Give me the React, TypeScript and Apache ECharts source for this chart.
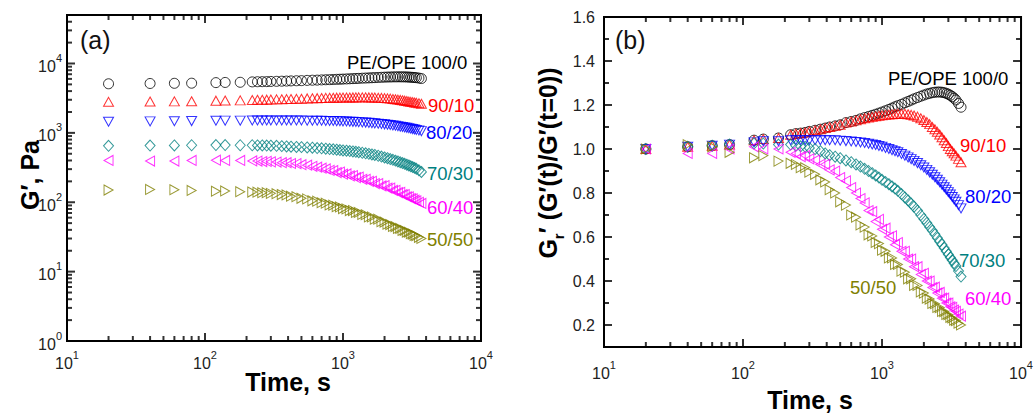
import React, { useEffect, useRef } from "react";
import * as echarts from "echarts";

// ---------------- data ----------------
const TIME_S = [20, 40, 60, 80, 120, 140, 180, 220, 240, 260, 280, 300, 330, 360, 390, 420, 460, 500, 550, 600, 650, 700, 750, 800, 850, 900, 950, 1000, 1060, 1120, 1180, 1240, 1300, 1380, 1460, 1540, 1620, 1700, 1800, 1900, 2000, 2100, 2200, 2300, 2400, 2500, 2600, 2700, 2800, 2900, 3000, 3100, 3200, 3300, 3400, 3550, 3700];

// panel (a): G', Pa
const G_100_0 = [5100, 5150, 5180, 5200, 5300, 5330, 5360, 5430, 5460, 5470, 5480, 5510, 5530, 5560, 5580, 5610, 5640, 5660, 5710, 5740, 5760, 5800, 5830, 5850, 5880, 5910, 5930, 5960, 5990, 6020, 6050, 6080, 6100, 6140, 6170, 6200, 6230, 6260, 6290, 6320, 6350, 6380, 6390, 6410, 6420, 6420, 6420, 6420, 6410, 6390, 6370, 6340, 6310, 6280, 6240, 6160, 6070];
const G_90_10 = [2800, 2828, 2842, 2856, 2912, 2926, 2940, 2982, 2996, 3002, 3010, 3024, 3038, 3052, 3066, 3080, 3094, 3108, 3136, 3150, 3164, 3178, 3192, 3200, 3209, 3217, 3223, 3228, 3234, 3240, 3242, 3245, 3248, 3248, 3248, 3242, 3234, 3226, 3212, 3192, 3170, 3144, 3116, 3080, 3052, 3018, 2985, 2948, 2912, 2876, 2836, 2800, 2772, 2744, 2716, 2674, 2632];
const G_80_20 = [1450, 1465, 1472, 1479, 1494, 1501, 1501, 1508, 1508, 1508, 1508, 1508, 1508, 1508, 1508, 1508, 1508, 1505, 1502, 1499, 1496, 1494, 1489, 1485, 1480, 1476, 1470, 1465, 1457, 1450, 1443, 1436, 1428, 1417, 1407, 1395, 1383, 1372, 1357, 1343, 1328, 1312, 1296, 1280, 1264, 1247, 1231, 1215, 1198, 1182, 1166, 1150, 1134, 1118, 1102, 1080, 1059];
const G_70_30 = [650, 657, 660, 663, 666, 666, 663, 663, 660, 658, 657, 653, 650, 644, 637, 632, 627, 623, 616, 611, 605, 598, 592, 585, 579, 572, 566, 559, 553, 546, 540, 533, 527, 517, 507, 498, 489, 480, 468, 455, 443, 432, 420, 409, 398, 387, 377, 367, 358, 348, 339, 330, 321, 313, 304, 289, 273];
const G_60_40 = [400, 392, 392, 400, 404, 400, 400, 394, 392, 386, 388, 382, 380, 372, 372, 362, 360, 348, 342, 330, 320, 310, 302, 288, 286, 268, 272, 254, 256, 240, 242, 226, 230, 214, 214, 200, 200, 186, 186, 172, 174, 160, 160, 148, 149, 138, 139, 129, 129, 120, 120, 113, 112, 107, 105, 100, 96];
const G_50_50 = [150, 153, 151.5, 147.8, 144, 145.5, 141.8, 140.3, 139.5, 137.3, 137.3, 134.3, 132.8, 129, 127.5, 122.3, 120, 114, 111.8, 105, 103.5, 98.3, 96.8, 91.5, 90.8, 86.3, 85.5, 81, 80.3, 75.8, 75.8, 71.3, 71.3, 66.8, 66, 61.5, 61.5, 57, 57, 52.5, 51.8, 48.3, 47.7, 44.7, 44.6, 42, 41.9, 39.3, 39.2, 37.2, 37.1, 35.3, 34.8, 33.3, 33, 31.2, 30];

// panel (b): Gr' = G'(t)/G'(t=0)
const GR_100_0 = [1.0, 1.01, 1.015, 1.02, 1.04, 1.045, 1.05, 1.065, 1.07, 1.072, 1.075, 1.08, 1.085, 1.09, 1.095, 1.1, 1.105, 1.11, 1.12, 1.125, 1.13, 1.137, 1.143, 1.148, 1.153, 1.158, 1.163, 1.168, 1.174, 1.18, 1.186, 1.192, 1.197, 1.203, 1.21, 1.216, 1.222, 1.228, 1.234, 1.24, 1.245, 1.25, 1.253, 1.256, 1.258, 1.259, 1.259, 1.258, 1.256, 1.253, 1.249, 1.244, 1.238, 1.231, 1.223, 1.207, 1.19];
const GR_90_10 = [1.0, 1.01, 1.015, 1.02, 1.04, 1.045, 1.05, 1.065, 1.07, 1.072, 1.075, 1.08, 1.085, 1.09, 1.095, 1.1, 1.105, 1.11, 1.12, 1.125, 1.13, 1.135, 1.14, 1.143, 1.146, 1.149, 1.151, 1.153, 1.155, 1.157, 1.158, 1.159, 1.16, 1.16, 1.16, 1.158, 1.155, 1.152, 1.147, 1.14, 1.132, 1.123, 1.113, 1.1, 1.09, 1.078, 1.066, 1.053, 1.04, 1.027, 1.013, 1.0, 0.99, 0.98, 0.97, 0.955, 0.94];
const GR_80_20 = [1.0, 1.01, 1.015, 1.02, 1.03, 1.035, 1.035, 1.04, 1.04, 1.04, 1.04, 1.04, 1.04, 1.04, 1.04, 1.04, 1.04, 1.038, 1.036, 1.034, 1.032, 1.03, 1.027, 1.024, 1.021, 1.018, 1.014, 1.01, 1.005, 1.0, 0.995, 0.99, 0.985, 0.977, 0.97, 0.962, 0.954, 0.946, 0.936, 0.926, 0.916, 0.905, 0.894, 0.883, 0.872, 0.86, 0.849, 0.838, 0.826, 0.815, 0.804, 0.793, 0.782, 0.771, 0.76, 0.745, 0.73];
const GR_70_30 = [1.0, 1.01, 1.015, 1.02, 1.025, 1.025, 1.02, 1.02, 1.015, 1.012, 1.01, 1.005, 1.0, 0.99, 0.98, 0.972, 0.965, 0.958, 0.948, 0.94, 0.93, 0.92, 0.91, 0.9, 0.89, 0.88, 0.87, 0.86, 0.85, 0.84, 0.83, 0.82, 0.81, 0.795, 0.78, 0.766, 0.752, 0.738, 0.72, 0.7, 0.682, 0.664, 0.646, 0.629, 0.612, 0.596, 0.58, 0.565, 0.55, 0.535, 0.521, 0.507, 0.494, 0.481, 0.468, 0.445, 0.42];
const GR_60_40 = [1.0, 0.98, 0.98, 1.0, 1.01, 1.0, 1.0, 0.985, 0.98, 0.965, 0.97, 0.955, 0.95, 0.93, 0.93, 0.905, 0.9, 0.87, 0.855, 0.825, 0.8, 0.775, 0.755, 0.72, 0.715, 0.67, 0.68, 0.635, 0.64, 0.6, 0.605, 0.565, 0.575, 0.535, 0.535, 0.5, 0.5, 0.465, 0.465, 0.43, 0.435, 0.4, 0.4, 0.37, 0.372, 0.345, 0.348, 0.322, 0.322, 0.3, 0.3, 0.283, 0.28, 0.268, 0.262, 0.25, 0.24];
const GR_50_50 = [1.0, 1.02, 1.01, 0.985, 0.96, 0.97, 0.945, 0.935, 0.93, 0.915, 0.915, 0.895, 0.885, 0.86, 0.85, 0.815, 0.8, 0.76, 0.745, 0.7, 0.69, 0.655, 0.645, 0.61, 0.605, 0.575, 0.57, 0.54, 0.535, 0.505, 0.505, 0.475, 0.475, 0.445, 0.44, 0.41, 0.41, 0.38, 0.38, 0.35, 0.345, 0.322, 0.318, 0.298, 0.297, 0.28, 0.279, 0.262, 0.261, 0.248, 0.247, 0.235, 0.232, 0.222, 0.22, 0.208, 0.2];

const SERIES_LABELS = ["PE/OPE 100/0", "90/10", "80/20", "70/30", "60/40", "50/50"];

// tick values
const X_MAJOR = [10, 100, 1000, 10000];
const X_MINOR = [20, 30, 40, 50, 60, 70, 80, 90, 200, 300, 400, 500, 600, 700, 800, 900, 2000, 3000, 4000, 5000, 6000, 7000, 8000, 9000];
const YA_MAJOR = [1, 10, 100, 1000, 10000];
const YA_MINOR = [2, 3, 4, 5, 6, 7, 8, 9, 20, 30, 40, 50, 60, 70, 80, 90, 200, 300, 400, 500, 600, 700, 800, 900, 2000, 3000, 4000, 5000, 6000, 7000, 8000, 9000, 20000, 30000, 40000];
const YB_MAJOR = [0.2, 0.4, 0.6, 0.8, 1.0, 1.2, 1.4, 1.6];
const YB_MINOR = [0.3, 0.5, 0.7, 0.9, 1.1, 1.3, 1.5];

// ---------------- styling ----------------
const FONT = '"Liberation Sans", Arial, Helvetica, sans-serif';
const COLORS = ["#000000", "#ff0000", "#0000ff", "#008080", "#ff00ff", "#808000"];
const SYMBOLS = ["circle", "path://M5,0L10,9L0,9Z", "path://M0,0L10,0L5,9Z", "diamond", "path://M9,0L9,10L0,5Z", "path://M0,0L9,5L0,10Z"];
const SIZES: any[] = [10, [10, 9], [10, 9], [10, 11], [9, 10], [9, 10]];

const G_SETS = [G_100_0, G_90_10, G_80_20, G_70_30, G_60_40, G_50_50];
const GR_SETS = [GR_100_0, GR_90_10, GR_80_20, GR_70_30, GR_60_40, GR_50_50];

const isDecade = (v: number) => Math.abs(Math.log10(v) - Math.round(Math.log10(v))) < 1e-6;
const pow10Label = (v: number) => (isDecade(v) ? `{b|10}{s|${Math.round(Math.log10(v))}}` : "");
const powRich = {
  b: { fontSize: 16, fontFamily: FONT, color: "#222", verticalAlign: "bottom", lineHeight: 22 },
  s: { fontSize: 11, fontFamily: FONT, color: "#222", verticalAlign: "top", lineHeight: 12 },
};

function frameAxis(base: any, gridIndex: number, pos: string, label: any) {
  return {
    ...base,
    gridIndex,
    position: pos,
    axisLine: { show: true, onZero: false, lineStyle: { color: "#000", width: 2 } },
    axisTick: { show: false },
    axisLabel: label,
    splitLine: { show: false },
  };
}

const X_BASE = { type: "log", logBase: 10, min: 10, max: 10000 };
const YA_BASE = { type: "log", logBase: 10, min: 1, max: 50000 };
const YB_BASE = { type: "value", min: 0.1, max: 1.6, interval: 0.1 };

// inward ticks on the four sides: thin rect symbols positioned by the axes
function tickSeries(xi: number, yi: number, xb: any, yb: any, xVals: number[], yVals: number[], len: number, w: number) {
  const inX = xVals.filter((v) => v > xb.min && v < xb.max);
  const inY = yVals.filter((v) => v > yb.min && v < yb.max);
  const mk = (data: number[][], size: number[], offset: number[]) => ({
    type: "scatter",
    xAxisIndex: xi,
    yAxisIndex: yi,
    clip: false,
    symbol: "rect",
    symbolSize: size,
    symbolOffset: offset,
    itemStyle: { color: "#000" },
    data,
  });
  return [
    mk(inX.map((v) => [v, yb.min]), [w, len], [0, -len / 2]),
    mk(inX.map((v) => [v, yb.max]), [w, len], [0, len / 2]),
    mk(inY.map((v) => [xb.min, v]), [len, w], [len / 2, 0]),
    mk(inY.map((v) => [xb.max, v]), [len, w], [-len / 2, 0]),
  ];
}

function textGraphics() {
  const txt = (x: number, y: number, text: string, fill: string, size: number, extra: any = {}) => ({
    type: "text",
    x,
    y,
    silent: true,
    z: 20,
    style: { text, fill, fontSize: size, fontFamily: FONT, align: "left", verticalAlign: "middle", ...extra },
  });
  const titleStyle = { fontWeight: "bold", align: "center" };
  return [
    txt(80, 40, "(a)", "#111", 25),
    txt(615, 40, "(b)", "#111", 25),
    txt(347, 62, SERIES_LABELS[0], COLORS[0], 18.5),
    txt(428, 105, SERIES_LABELS[1], COLORS[1], 18.5),
    txt(426, 132, SERIES_LABELS[2], COLORS[2], 18.5),
    txt(427, 173, SERIES_LABELS[3], COLORS[3], 18.5),
    txt(427, 207, SERIES_LABELS[4], COLORS[4], 18.5),
    txt(427, 239, SERIES_LABELS[5], COLORS[5], 18.5),
    txt(888, 78, SERIES_LABELS[0], COLORS[0], 18.5),
    txt(960, 145, SERIES_LABELS[1], COLORS[1], 18.5),
    txt(965, 196, SERIES_LABELS[2], COLORS[2], 18.5),
    txt(959, 260, SERIES_LABELS[3], COLORS[3], 18.5),
    txt(965, 298, SERIES_LABELS[4], COLORS[4], 18.5),
    txt(850, 287, SERIES_LABELS[5], COLORS[5], 18.5),
    txt(288, 382, "Time, s", "#000", 25, titleStyle),
    txt(810, 400, "Time, s", "#000", 25, titleStyle),
    {
      type: "text", x: 30, y: 175, rotation: Math.PI / 2, silent: true,
      style: { text: "G\u2032, Pa", fill: "#000", fontSize: 25, fontWeight: "bold", fontFamily: FONT, align: "center", verticalAlign: "middle" },
    },
    {
      type: "text", x: 548, y: 163, rotation: Math.PI / 2, silent: true,
      style: {
        text: "{m|G}{r|r}{m|\u2032 (G\u2032(t)/G\u2032(t=0))}",
        fill: "#000", fontFamily: FONT, align: "center", verticalAlign: "middle",
        rich: {
          m: { fontSize: 25, fontWeight: "bold", fontFamily: FONT, fill: "#000", color: "#000", lineHeight: 36, verticalAlign: "middle" },
          r: { fontSize: 15, fontWeight: "bold", fontFamily: FONT, fill: "#000", color: "#000", lineHeight: 15, verticalAlign: "bottom" },
        },
      },
    },
  ];
}

function buildOption() {
  const xLabelA = { show: true, margin: 8, formatter: pow10Label, rich: powRich };
  const xLabelB = { show: true, margin: 12, formatter: pow10Label, rich: powRich };
  const yLabelA = { show: true, margin: 5, formatter: pow10Label, rich: powRich };
  const yLabelB = {
    show: true, margin: 9, fontSize: 16, fontFamily: FONT, color: "#222",
    formatter: (v: number) => (Math.round(v * 10) % 2 === 0 ? v.toFixed(1) : ""),
  };
  // one x and one y axis per panel; the grid border closes the frame on top and right
  const xAxis = [frameAxis(X_BASE, 0, "bottom", xLabelA), frameAxis(X_BASE, 1, "bottom", xLabelB)];
  const yAxis = [frameAxis(YA_BASE, 0, "left", yLabelA), frameAxis(YB_BASE, 1, "left", yLabelB)];

  const series: any[] = [];
  for (let k = 0; k < 6; k++) {
    const common = {
      type: "scatter",
      silent: true,
      symbol: SYMBOLS[k],
      symbolSize: SIZES[k],
      itemStyle: { color: "rgba(0,0,0,0)", borderColor: COLORS[k], borderWidth: 1 },
    };
    series.push({ ...common, xAxisIndex: 0, yAxisIndex: 0, data: TIME_S.map((t, i) => [t, G_SETS[k][i]]) });
    series.push({ ...common, xAxisIndex: 1, yAxisIndex: 1, data: TIME_S.map((t, i) => [t, GR_SETS[k][i]]) });
  }
  series.push(
    ...tickSeries(0, 0, X_BASE, YA_BASE, X_MAJOR, YA_MAJOR, 8, 2),
    ...tickSeries(0, 0, X_BASE, YA_BASE, X_MINOR, YA_MINOR, 5, 2),
    ...tickSeries(1, 1, X_BASE, YB_BASE, X_MAJOR, YB_MAJOR, 8, 2),
    ...tickSeries(1, 1, X_BASE, YB_BASE, X_MINOR, YB_MINOR, 5, 2)
  );
  const gridFrame = { show: true, borderColor: "#000", borderWidth: 2, backgroundColor: "rgba(0,0,0,0)" };
  return {
    animation: false,
    grid: [
      { left: 67, top: 15, width: 414, height: 326, ...gridFrame },
      { left: 604, top: 17, width: 421, height: 330, ...gridFrame },
    ],
    xAxis,
    yAxis,
    series,
    graphic: textGraphics(),
  };
}

export default function App() {
  const ref = useRef<HTMLDivElement>(null);
  useEffect(() => {
    if (!ref.current) return;
    const chart = echarts.init(ref.current, undefined, { renderer: "svg" });
    try {
      chart.setOption(buildOption() as any);
    } catch (e) {
      // keep whatever was drawn
    }
    return () => chart.dispose();
  }, []);
  return <div ref={ref} style={{ position: "fixed", left: 0, top: 0, width: 1036, height: 414, background: "#fff" }} />;
}
